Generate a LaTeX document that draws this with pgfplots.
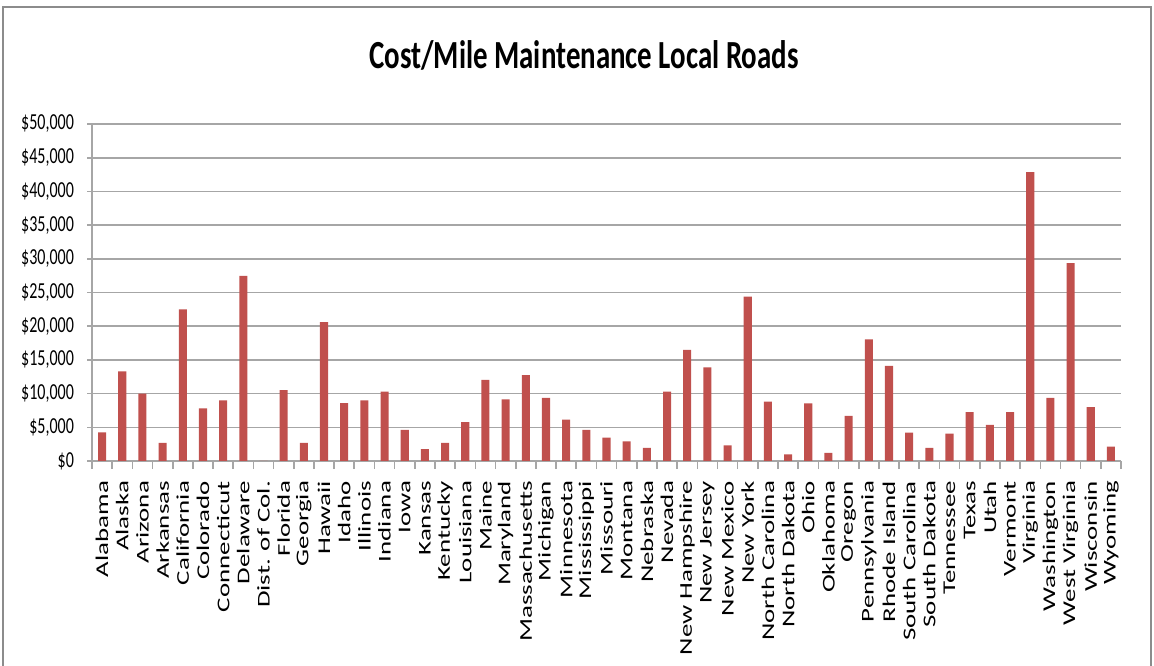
\documentclass[border=0pt]{standalone}
\usepackage{fontspec}
\setmainfont{Carlito}
\newfontfamily\titlefont[FakeStretch=0.725]{Carlito}
\newfontfamily\yfont[FakeStretch=0.70]{Carlito}
\newfontfamily\xfont[FakeStretch=1.5]{Carlito}
\usepackage{pgfplots}
\usepackage{pgfplotstable}
\pgfplotsset{compat=1.18}
\definecolor{barred}{HTML}{C0504D}
\definecolor{gridgray}{HTML}{A6A6A6}
\definecolor{framegray}{HTML}{8C8C8C}

\pgfplotstableread{
idx val
0 4250
1 13300
2 10000
3 2700
4 22500
5 7800
6 9000
7 27450
8 0
9 10500
10 2700
11 20600
12 8600
13 9000
14 10300
15 4600
16 1750
17 2700
18 5750
19 12050
20 9150
21 12750
22 9350
23 6150
24 4600
25 3450
26 2900
27 1950
28 10300
29 16500
30 13900
31 2300
32 24400
33 8800
34 1000
35 8550
36 1200
37 6700
38 18050
39 14100
40 4200
41 1950
42 4050
43 7250
44 5350
45 7250
46 42850
47 9350
48 29350
49 8000
50 2150
}\costtable

\begin{document}
\begin{tikzpicture}
\useasboundingbox (0,0) rectangle (577bp,333bp);
\draw[framegray, line width=1bp] (1.5bp,-5bp) rectangle (575.5bp,329.5bp);
\node[font=\titlefont\bfseries\fontsize{20}{24}\selectfont, anchor=base, inner sep=0pt] at (292bp,298.5bp) {Cost/Mile Maintenance Local Roads};
\begin{axis}[
  at={(46bp,102.5bp)}, anchor=south west,
  scale only axis,
  width=514.5bp, height=168.5bp,
  xmin=-0.5, xmax=50.5,
  ymin=0, ymax=50000,
  scaled y ticks=false,
  axis x line*=bottom, axis y line*=left,
  axis line style={-, draw=gridgray, line width=0.8bp},
  ymajorgrids,
  grid style={draw=gridgray, line width=0.8bp},
  ytick={0,5000,...,50000},
  yticklabels={\$0,\$5{,}000,\$10{,}000,\$15{,}000,\$20{,}000,\$25{,}000,\$30{,}000,\$35{,}000,\$40{,}000,\$45{,}000,\$50{,}000},
  yticklabel style={font=\yfont\fontsize{11.5}{13}\selectfont, xshift=-3bp},
  xtick={0,...,50},
  minor xtick={-0.5,0.5,...,50.5},
  xticklabels={Alabama,Alaska,Arizona,Arkansas,California,Colorado,Connecticut,Delaware,Dist. of Col.,Florida,Georgia,Hawaii,Idaho,Illinois,Indiana,Iowa,Kansas,Kentucky,Louisiana,Maine,Maryland,Massachusetts,Michigan,Minnesota,Mississippi,Missouri,Montana,Nebraska,Nevada,New Hampshire,New Jersey,New Mexico,New York,North Carolina,North Dakota,Ohio,Oklahoma,Oregon,Pennsylvania,Rhode Island,South Carolina,South Dakota,Tennessee,Texas,Utah,Vermont,Virginia,Washington,West Virginia,Wisconsin,Wyoming},
  xticklabel style={yshift=-4bp, rotate=90, anchor=east, font=\xfont\fontsize{9}{10}\selectfont},
  tick align=outside,
  xtick pos=bottom, ytick pos=left,
  major tick length=2.5bp,
  minor tick length=4bp,
  major x tick style={draw=none},
  tick style={draw=gridgray, line width=0.8bp},
  ybar, bar width=0.4,
]
\addplot[draw=none, fill=barred] table[x=idx, y=val] {\costtable};
\end{axis}
\end{tikzpicture}
\end{document}
